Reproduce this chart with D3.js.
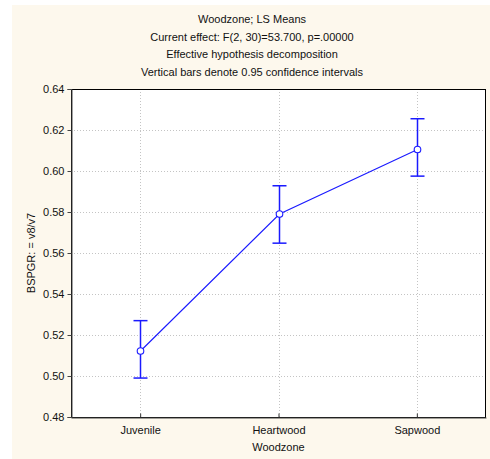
<!DOCTYPE html>
<html>
<head>
<meta charset="utf-8">
<script src="https://cdn.jsdelivr.net/npm/d3@7"></script>
<style>
  body { margin: 0; background: #fff; }
  text { font-family: Arial, "Liberation Sans", sans-serif; fill: #111; }
</style>
</head>
<body>
<div id="chart"></div>
<script>
// LS means and 0.95 confidence limits per wood zone
var zones = ["Juvenile", "Heartwood", "Sapwood"];
var means = [0.5122, 0.5790, 0.6105];
var lower = [0.4990, 0.5648, 0.5975];
var upper = [0.5270, 0.5928, 0.6255];
var yTicks = [0.48, 0.50, 0.52, 0.54, 0.56, 0.58, 0.60, 0.62, 0.64];
var titles = ["Woodzone; LS Means",
              "Current effect: F(2, 30)=53.700, p=.00000",
              "Effective hypothesis decomposition",
              "Vertical bars denote 0.95 confidence intervals"];

var W = 490, H = 459;
var margin = {left: 71, right: 4, top: 89, bottom: 42};

var svg = d3.select('#chart').append('svg')
  .attr('width', W)
  .attr('height', H);

// cream panel
svg.append('rect')
  .attr('x', 12).attr('y', 5)
  .attr('width', W - 12).attr('height', H - 5)
  .attr('fill', '#fdf8ed');

var x = d3.scalePoint().domain(zones)
  .range([margin.left, W - margin.right]).padding(0.5);
var y = d3.scaleLinear().domain([0.48, 0.64])
  .range([H - margin.bottom, margin.top]);

var x0 = margin.left, x1 = W - margin.right;
var y0 = H - margin.bottom, y1 = margin.top;

svg.append('rect')
  .attr('x', x0).attr('y', y1)
  .attr('width', x1 - x0).attr('height', y0 - y1)
  .attr('fill', '#fff');

// dotted grid
svg.append('g').selectAll('line.hg')
  .data(yTicks.slice(1, -1)).enter().append('line')
  .attr('x1', x0).attr('x2', x1)
  .attr('y1', function(d) { return Math.round(y(d)) + 0.5; })
  .attr('y2', function(d) { return Math.round(y(d)) + 0.5; })
  .attr('stroke', '#c4c4c4').attr('stroke-dasharray', '1,2');

svg.append('g').selectAll('line.vg')
  .data(zones).enter().append('line')
  .attr('x1', function(d) { return Math.round(x(d)) + 0.5; })
  .attr('x2', function(d) { return Math.round(x(d)) + 0.5; })
  .attr('y1', y1).attr('y2', y0)
  .attr('stroke', '#c4c4c4').attr('stroke-dasharray', '1,2');

// frame
svg.append('rect')
  .attr('x', x0 + 0.5).attr('y', y1 + 0.5)
  .attr('width', x1 - x0 - 1).attr('height', y0 - y1)
  .attr('fill', 'none').attr('stroke', '#000');

// axes
var yAxis = svg.append('g')
  .attr('transform', 'translate(' + (x0 + 0.5) + ',0)')
  .call(d3.axisLeft(y).tickValues(yTicks).tickFormat(d3.format('.2f'))
    .tickSize(4).tickPadding(3));
yAxis.select('.domain').attr('stroke', '#444');
yAxis.selectAll('.tick line').attr('stroke', '#444');
yAxis.selectAll('text').attr('font-size', '11px').style('fill', '#111');

var xAxis = svg.append('g')
  .attr('transform', 'translate(0,' + (y0 + 0.5) + ')')
  .call(d3.axisBottom(x).tickSizeInner(-4).tickSizeOuter(0).tickPadding(9));
xAxis.select('.domain').attr('stroke', '#444');
xAxis.selectAll('.tick line').attr('stroke', '#333');
xAxis.selectAll('text').attr('font-size', '11px').style('fill', '#111');

// titles
svg.selectAll('text.title').data(titles).enter().append('text')
  .attr('class', 'title')
  .attr('x', 252)
  .attr('y', function(d, i) { return 23 + i * 17.7; })
  .attr('text-anchor', 'middle')
  .attr('font-size', '11px')
  .text(function(d) { return d; });

svg.append('text')
  .attr('x', (x0 + x1) / 2).attr('y', 451)
  .attr('text-anchor', 'middle').attr('font-size', '11px')
  .text('Woodzone');

svg.append('text')
  .attr('transform', 'translate(35,' + ((y0 + y1) / 2) + ') rotate(-90)')
  .attr('text-anchor', 'middle').attr('font-size', '11px')
  .text('BSPGR: = v8/v7');

// error bars
var blue = '#1a1aff';
var bars = svg.append('g');
zones.forEach(function(z, i) {
  var cx = Math.round(x(z)) + 0.5;
  bars.append('line')
    .attr('x1', cx).attr('x2', cx)
    .attr('y1', y(lower[i])).attr('y2', y(upper[i]))
    .attr('stroke', blue).attr('stroke-width', 1.5);
  [lower[i], upper[i]].forEach(function(v) {
    bars.append('line')
      .attr('x1', cx - 7).attr('x2', cx + 7)
      .attr('y1', y(v)).attr('y2', y(v))
      .attr('stroke', blue).attr('stroke-width', 1.5);
  });
});

// means line
var line = d3.line()
  .x(function(d, i) { return Math.round(x(zones[i])) + 0.5; })
  .y(function(d) { return y(d); });

svg.append('path')
  .datum(means)
  .attr('d', line)
  .attr('fill', 'none')
  .attr('stroke', blue)
  .attr('stroke-width', 1.1);

svg.selectAll('circle.pt').data(means).enter().append('circle')
  .attr('cx', function(d, i) { return Math.round(x(zones[i])) + 0.5; })
  .attr('cy', function(d) { return y(d); })
  .attr('r', 3.3)
  .attr('fill', '#fff')
  .attr('stroke', blue)
  .attr('stroke-width', 1.1);
</script>
</body>
</html>
